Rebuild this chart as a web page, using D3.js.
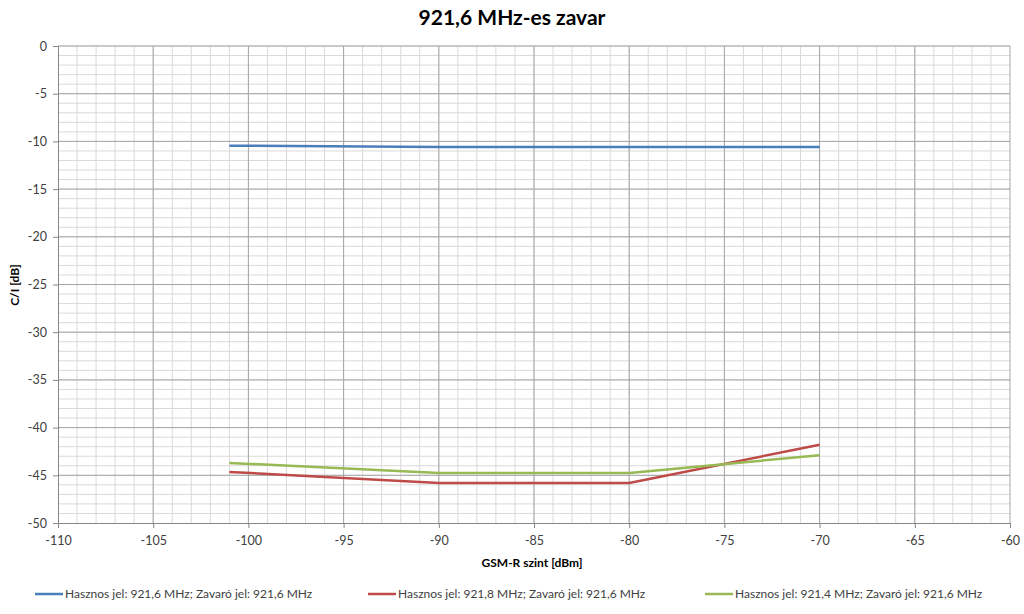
<!DOCTYPE html>
<html>
<head>
<meta charset="utf-8">
<script src="https://cdn.jsdelivr.net/npm/d3@7"></script>
<style>
  body { margin: 0; background: #fff; }
  text { font-family: Lato, "Open Sans", sans-serif; }
</style>
</head>
<body>
<div id="chart"></div>
<script>
var width = 1024;
var height = 614;

// Data
var levels = [-101, -90, -80, -70];
var seriesNames = [
    "Hasznos jel: 921,6 MHz; Zavaró jel: 921,6 MHz",
    "Hasznos jel: 921,8 MHz; Zavaró jel: 921,6 MHz",
    "Hasznos jel: 921,4 MHz; Zavaró jel: 921,6 MHz"
];
var blueValues = [-10.45, -10.58, -10.58, -10.6];
var redValues = [-44.65, -45.8, -45.8, -41.8];
var greenValues = [-43.7, -44.75, -44.75, -42.9];
var seriesColors = ["#4a7ebb", "#be4b48", "#98b954"];
var xTicks = [-110, -105, -100, -95, -90, -85, -80, -75, -70, -65, -60];
var yTicks = [0, -5, -10, -15, -20, -25, -30, -35, -40, -45, -50];

var margin = { left: 58, right: 14, top: 46, bottom: 91 };

var svg = d3.select("#chart")
    .append("svg")
    .attr("width", width)
    .attr("height", height);

var x = d3.scaleLinear().domain([-110, -60]).range([margin.left, width - margin.right]);
var y = d3.scaleLinear().domain([-50, 0]).range([height - margin.bottom, margin.top]);

// minor grid (every 1 unit)
svg.append("g")
    .selectAll("line")
    .data(d3.range(-109, -60, 1))
    .enter().append("line")
    .attr("x1", d => x(d)).attr("x2", d => x(d))
    .attr("y1", y(0)).attr("y2", y(-50))
    .attr("stroke", "#d9d9d9").attr("stroke-width", 1);

svg.append("g")
    .selectAll("line")
    .data(d3.range(-49, 1, 1))
    .enter().append("line")
    .attr("x1", x(-110)).attr("x2", x(-60))
    .attr("y1", d => y(d)).attr("y2", d => y(d))
    .attr("stroke", "#d9d9d9").attr("stroke-width", 1);

// major grid
svg.append("g")
    .selectAll("line")
    .data(xTicks.slice(1))
    .enter().append("line")
    .attr("x1", d => x(d)).attr("x2", d => x(d))
    .attr("y1", y(0)).attr("y2", y(-50))
    .attr("stroke", "#a6a6a6").attr("stroke-width", 1);

svg.append("g")
    .selectAll("line")
    .data(yTicks.slice(0, -1))
    .enter().append("line")
    .attr("x1", x(-110)).attr("x2", x(-60))
    .attr("y1", d => y(d)).attr("y2", d => y(d))
    .attr("stroke", "#a6a6a6").attr("stroke-width", 1);

// axes (plain hyphen as minus sign, like the original)
var fmt = d => String(d);
var xAxis = svg.append("g")
    .attr("transform", "translate(0," + y(-50) + ")")
    .call(d3.axisBottom(x).tickValues(xTicks).tickFormat(fmt).tickSize(5).tickPadding(8));
var yAxis = svg.append("g")
    .attr("transform", "translate(" + x(-110) + ",0)")
    .call(d3.axisLeft(y).tickValues(yTicks).tickFormat(fmt).tickSize(5).tickPadding(6));

[xAxis, yAxis].forEach(function(ax) {
    ax.select(".domain").attr("stroke", "#868686");
    ax.selectAll(".tick line").attr("stroke", "#868686");
    ax.selectAll(".tick text")
        .attr("fill", "#404040")
        .style("font-size", "12.5px");
});

// lines
var line = d3.line()
    .x((d, i) => x(levels[i]))
    .y(d => y(d));

[blueValues, redValues, greenValues].forEach(function(vals, i) {
    svg.append("path")
        .datum(vals)
        .attr("fill", "none")
        .attr("stroke", seriesColors[i])
        .attr("stroke-width", 2.5)
        .attr("stroke-linejoin", "round")
        .attr("d", line);
});

// title
svg.append("text")
    .attr("x", 512).attr("y", 25)
    .attr("text-anchor", "middle")
    .style("font-size", "21px").style("font-weight", "bold")
    .attr("fill", "#000")
    .text("921,6 MHz-es zavar");

// axis titles
svg.append("text")
    .attr("x", 532).attr("y", 567)
    .attr("text-anchor", "middle")
    .style("font-size", "12px").style("font-weight", "bold")
    .attr("fill", "#000")
    .text("GSM-R szint [dBm]");

svg.append("text")
    .attr("transform", "translate(19," + 285 + ") rotate(-90)")
    .attr("text-anchor", "middle")
    .style("font-size", "12px").style("font-weight", "bold")
    .attr("fill", "#000")
    .text("C/I [dB]");

// legend
var legendX = [35, 368, 705];
var legend = svg.append("g");
seriesNames.forEach(function(name, i) {
    legend.append("line")
        .attr("x1", legendX[i]).attr("x2", legendX[i] + 28)
        .attr("y1", 594).attr("y2", 594)
        .attr("stroke", seriesColors[i]).attr("stroke-width", 2.5);
    legend.append("text")
        .attr("x", legendX[i] + 30).attr("y", 598)
        .style("font-size", "12px")
        .attr("fill", "#404040")
        .text(name);
});
</script>
</body>
</html>
